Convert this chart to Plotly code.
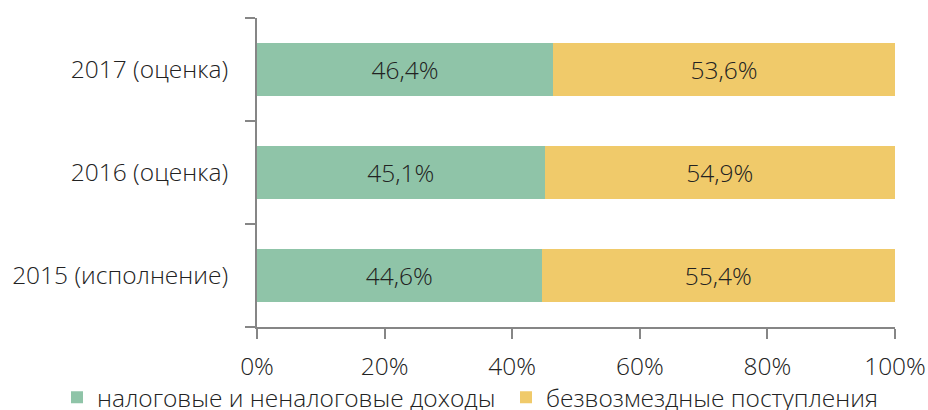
import plotly.graph_objects as go

categories = ["2015 (исполнение)", "2016 (оценка)", "2017 (оценка)"]
tax_revenue = [44.6, 45.1, 46.4]
transfers = [55.4, 54.9, 53.6]
series_names = ["налоговые и неналоговые доходы", "безвозмездные поступления"]
x_ticks = [0, 20, 40, 60, 80, 100]

def fmt(v):
    return f"{v:.1f}".replace(".", ",") + "%"

FONT = "Open Sans"
TXT = "#222222"
AX = "#868686"
FS = 24.5

fig = go.Figure()
fig.add_trace(go.Bar(
    y=categories, x=tax_revenue, orientation="h", name=series_names[0],
    marker=dict(color="#8FC4A8", line=dict(width=0)),
    text=[fmt(v) for v in tax_revenue], textposition="inside",
    insidetextanchor="middle", textangle=0,
    textfont=dict(family=FONT, size=FS, color=TXT, weight=300),
    width=0.524, legend="legend",
))
fig.add_trace(go.Bar(
    y=categories, x=transfers, orientation="h", name=series_names[1],
    marker=dict(color="#F0CA6A", line=dict(width=0)),
    text=[fmt(v) for v in transfers], textposition="inside",
    insidetextanchor="middle", textangle=0,
    textfont=dict(family=FONT, size=FS, color=TXT, weight=300),
    width=0.524, legend="legend2",
))

leg_common = dict(
    orientation="h", xref="container", yref="container",
    xanchor="left", y=0.031, yanchor="middle",
    font=dict(family=FONT, size=FS, color=TXT, weight=300),
    bgcolor="rgba(0,0,0,0)", borderwidth=0,
)

fig.update_layout(
    barmode="stack",
    width=928, height=410,
    margin=dict(l=257, r=33, t=18, b=83, autoexpand=False),
    paper_bgcolor="white", plot_bgcolor="white",
    font=dict(family=FONT, size=FS, color=TXT, weight=300),
    uniformtext=dict(minsize=10, mode="show"),
    showlegend=True,
    legend=dict(x=57 / 928, **leg_common),
    legend2=dict(x=506 / 928, **leg_common),
    xaxis=dict(
        range=[0, 100], tickvals=x_ticks, ticktext=[f"{t}%" for t in x_ticks],
        showgrid=False, zeroline=False, automargin=False,
        showline=True, linecolor=AX, linewidth=2,
        ticks="outside", ticklen=10, tickwidth=1.5, tickcolor=AX,
        tickfont=dict(family=FONT, size=FS, color=TXT, weight=300),
        ticklabelstandoff=7,
    ),
    yaxis=dict(
        categoryorder="array", categoryarray=categories,
        range=[-0.5, 2.5], automargin=False,
        showgrid=False, zeroline=False,
        showline=True, linecolor=AX, linewidth=2,
        ticks="outside", tickson="boundaries", ticklen=10, tickwidth=1.5, tickcolor=AX,
        tickfont=dict(family=FONT, size=FS, color=TXT, weight=300),
        ticklabelstandoff=22,
    ),
)

fig.write_html(
    "out.html",
    config={"displayModeBar": False},
    post_script="document.body.style.margin='0';document.body.style.overflow='hidden';",
)
